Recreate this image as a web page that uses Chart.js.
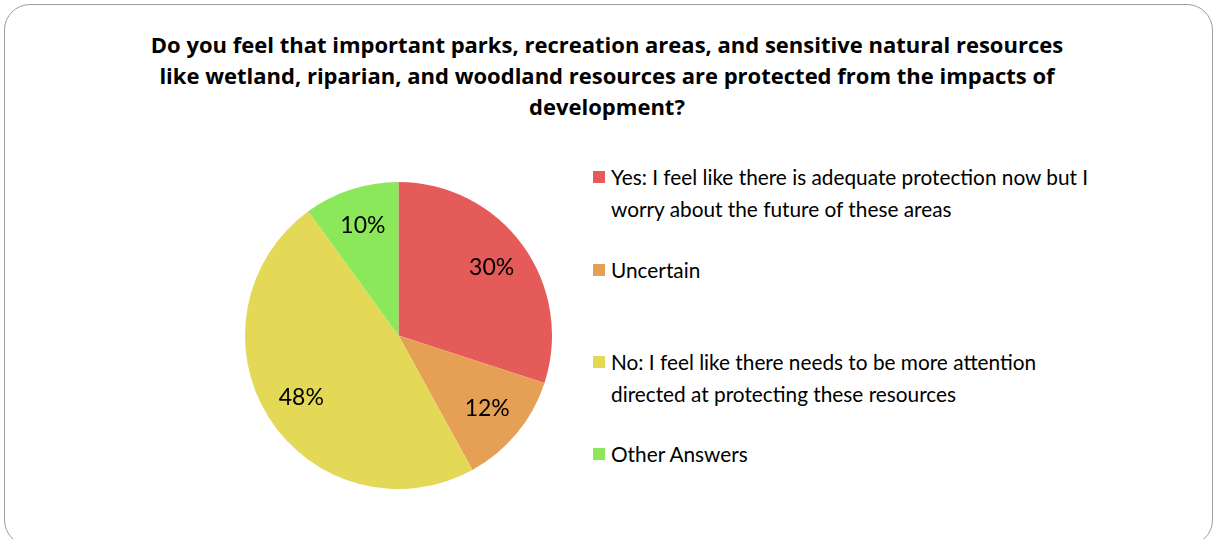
<!DOCTYPE html>
<html>
<head>
<meta charset="utf-8">
<script src="https://cdn.jsdelivr.net/npm/chart.js@4/dist/chart.umd.min.js"></script>
<style>
	body { margin:0; width:1214px; height:539px; overflow:hidden; background:#fff; font-family:Lato, "Open Sans", sans-serif; }
	#frame { position:absolute; left:4px; top:4px; width:1207px; height:540px; border:1.5px solid #9e9e9e; border-radius:26px; }
	#title { position:absolute; left:0; width:1214px; top:29px; text-align:center; font-family:"Open Sans", Lato, sans-serif; font-weight:bold; font-size:22px; line-height:31px; color:#000; }
	#pieBox { position:absolute; left:245px; top:182px; width:307px; height:307px; }
	#legend { position:absolute; left:593px; top:0; }
	.lg_item { position:absolute; left:0; white-space:nowrap; font-size:20.8px; line-height:32px; color:#000; }
	.lg_box { position:absolute; left:0; top:10px; width:12px; height:12px; }
	.lg_text { position:absolute; left:18px; top:0; }
</style>
</head>
<body>
<div id="frame"></div>
<div id="title"></div>
<div id="pieBox"><canvas id="myCanvas"></canvas></div>
<div id="legend"></div>
<script>
// 数据
var titleLines = [
	'Do you feel that important parks, recreation areas, and sensitive natural resources',
	'like wetland, riparian, and woodland resources are protected from the impacts of',
	'development?'
];
var categories = [
	['Yes: I feel like there is adequate protection now but I', 'worry about the future of these areas'],
	['Uncertain'],
	['No: I feel like there needs to be more attention', 'directed at protecting these resources'],
	['Other Answers']
];
var values = [30, 12, 48, 10];
var colors = ['#e55b5a', '#e6a056', '#e4d857', '#8ae85a'];
var legendTops = [161, 254, 346, 438];

// 标题
document.getElementById('title').innerHTML = titleLines.join('<br>');

// 图例
for(var i = 0; i < categories.length; i++){
	var item = document.createElement('div'); item.className = 'lg_item';
	item.style.top = legendTops[i] + 'px';
	item.innerHTML = '<div class="lg_box" style="background:'+colors[i]+'"></div>'
		+ '<div class="lg_text">'+categories[i].join('<br>')+'</div>';
	document.getElementById('legend').appendChild(item);
}

// 饼图上的百分比
var pctLabels = {
	id: 'pctLabels',
	afterDatasetsDraw: function(chart) {
		var ctx = chart.ctx;
		var meta = chart.getDatasetMeta(0);
		ctx.save();
		ctx.font = '23px Lato, "Open Sans", sans-serif';
		ctx.fillStyle = '#000';
		ctx.textAlign = 'center';
		ctx.textBaseline = 'middle';
		meta.data.forEach(function(arc, i) {
			var p = arc.getProps(['x', 'y', 'startAngle', 'endAngle', 'outerRadius'], true);
			var mid = (p.startAngle + p.endAngle) / 2;
			var r = p.outerRadius * 0.75;
			ctx.fillText(values[i] + '%', p.x + Math.cos(mid) * r, p.y + Math.sin(mid) * r);
		});
		ctx.restore();
	}
};

var ctx = document.getElementById('myCanvas').getContext('2d');
var myChart = new Chart(ctx, {
	type: 'pie',
	data: {
		labels: categories.map(function(c) { return c.join(' '); }),
		datasets: [{
			data: values,
			backgroundColor: colors,
			borderWidth: 0
		}]
	},
	options: {
		responsive: true,
		maintainAspectRatio: false,
		animation: false,
		layout: { padding: 0 },
		plugins: {
			legend: { display: false },
			tooltip: { enabled: false }
		}
	},
	plugins: [pctLabels]
});
</script>
</body>
</html>
